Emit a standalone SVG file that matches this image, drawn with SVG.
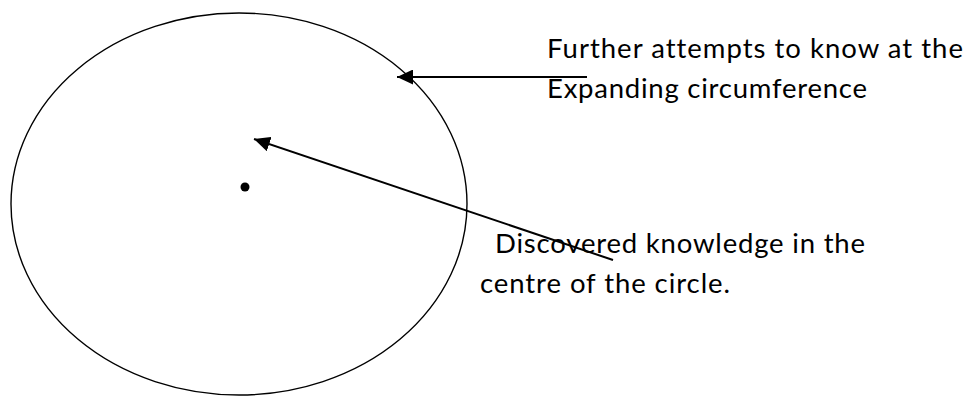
<svg xmlns="http://www.w3.org/2000/svg" width="967" height="396" viewBox="0 0 967 396">
<style>
.lbl{font-family:Lato,"Open Sans","Liberation Sans",sans-serif;font-size:27.5px;fill:#000;font-variant-ligatures:none;font-feature-settings:"liga" 0}
.conn{stroke:#000;stroke-width:2;fill:none}
</style>
<defs>
<marker id="ah" markerUnits="userSpaceOnUse" markerWidth="17" markerHeight="15" refX="16" refY="7.5" orient="auto">
<path d="M0,0 L16,7.5 L0,15 z" fill="#000"/>
</marker>
</defs>
<rect width="967" height="396" fill="#fff"/>
<g id="circle">
<ellipse cx="239" cy="204" rx="228" ry="191" fill="none" stroke="#000" stroke-width="1.4"/>
</g>
<g id="centre-dot">
<circle cx="245" cy="187" r="4.5" fill="#000"/>
</g>
<g id="connectors">
<line class="conn" x1="587" y1="77" x2="397" y2="77" marker-end="url(#ah)"/>
<line class="conn" x1="613" y1="260" x2="254" y2="139" marker-end="url(#ah)"/>
</g>
<g id="label-circumference">
<text class="lbl" x="547" y="58" textLength="416">Further attempts to know at the</text>
<text class="lbl" x="547" y="98" textLength="320">Expanding circumference</text>
</g>
<g id="label-centre">
<text class="lbl" x="495" y="253" textLength="370">Discovered knowledge in the</text>
<text class="lbl" x="480" y="293" textLength="250">centre of the circle.</text>
</g>
</svg>
